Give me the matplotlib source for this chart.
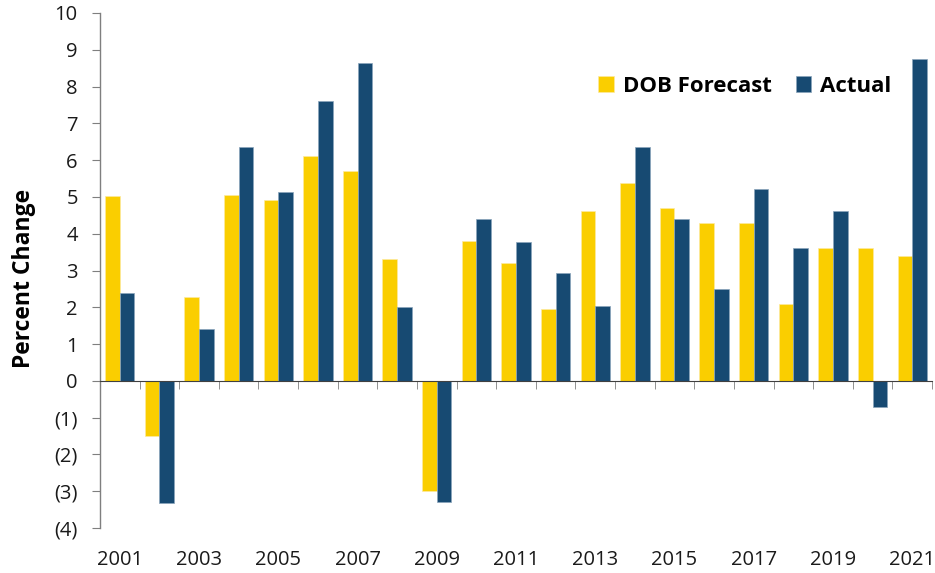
import matplotlib
matplotlib.use("Agg")
import matplotlib.pyplot as plt
from matplotlib.ticker import FuncFormatter, MultipleLocator
import numpy as np

years = list(range(2001, 2022))
forecast = [5.03, -1.5, 2.29, 5.05, 4.92, 6.1, 5.7, 3.3, -3.0, 3.8, 3.2,
            1.94, 4.61, 5.38, 4.7, 4.29, 4.29, 2.09, 3.6, 3.6, 3.4]
actual = [2.38, -3.32, 1.4, 6.37, 5.13, 7.61, 8.64, 2.0, -3.3, 4.4, 3.78,
          2.93, 2.03, 6.35, 4.4, 2.49, 5.21, 3.6, 4.61, -0.71, 8.76]
year_labels = [str(y) if (y - 2001) % 2 == 0 else "" for y in years]

yellow = "#FACE00"
navy = "#174A72"
grey = "#7f7f7f"

plt.rcParams["font.family"] = ["Open Sans", "DejaVu Sans"]

fig = plt.figure(figsize=(9.35, 5.73), dpi=100)
ax = fig.add_axes([100 / 935, 1 - 528 / 573, 832 / 935, 515 / 573])

x = np.arange(len(years))
w = 0.37
ax.bar(x - w / 2, forecast, w, color=yellow, label="DOB Forecast",
       edgecolor="#fdeaa0", linewidth=0.5)
ax.bar(x + w / 2, actual, w, color=navy, label="Actual",
       edgecolor="#8aa4bb", linewidth=0.5)

ax.set_xlim(-0.5, len(years) - 0.5)
ax.set_ylim(-4, 10)

ax.spines["top"].set_visible(False)
ax.spines["right"].set_visible(False)
ax.spines["bottom"].set_position(("data", 0))
ax.spines["bottom"].set_color("#404040")
ax.spines["left"].set_color(grey)
ax.spines["left"].set_linewidth(1.0)

ax.yaxis.set_major_locator(MultipleLocator(1))
ax.yaxis.set_major_formatter(
    FuncFormatter(lambda v, p: f"({abs(int(v))})" if v < 0 else f"{int(v)}"))
ax.tick_params(axis="y", direction="out", length=6, color=grey,
               labelsize=14.5, pad=10, labelcolor="#1a1a1a")

ax.set_xticks(x)
ax.set_xticklabels(year_labels)
ax.set_xticks(np.arange(len(years) + 1) - 0.5, minor=True)
ax.tick_params(axis="x", which="major", length=0, labelsize=14.5, pad=122,
               labelcolor="#1a1a1a")
ax.tick_params(axis="x", which="minor", length=6, color=grey, direction="out")

ax.set_ylabel("Percent Change", fontsize=16.5, fontweight="bold")
ax.yaxis.set_label_coords(-0.077, 0.485)

ax.legend(loc="center left", bbox_to_anchor=(0.588, 0.858), ncol=2,
          frameon=False, prop={"weight": "bold", "size": 16},
          handlelength=0.7, handleheight=0.7, handletextpad=0.4,
          columnspacing=1.1, borderaxespad=0)

fig.savefig("out.png", dpi=100)
